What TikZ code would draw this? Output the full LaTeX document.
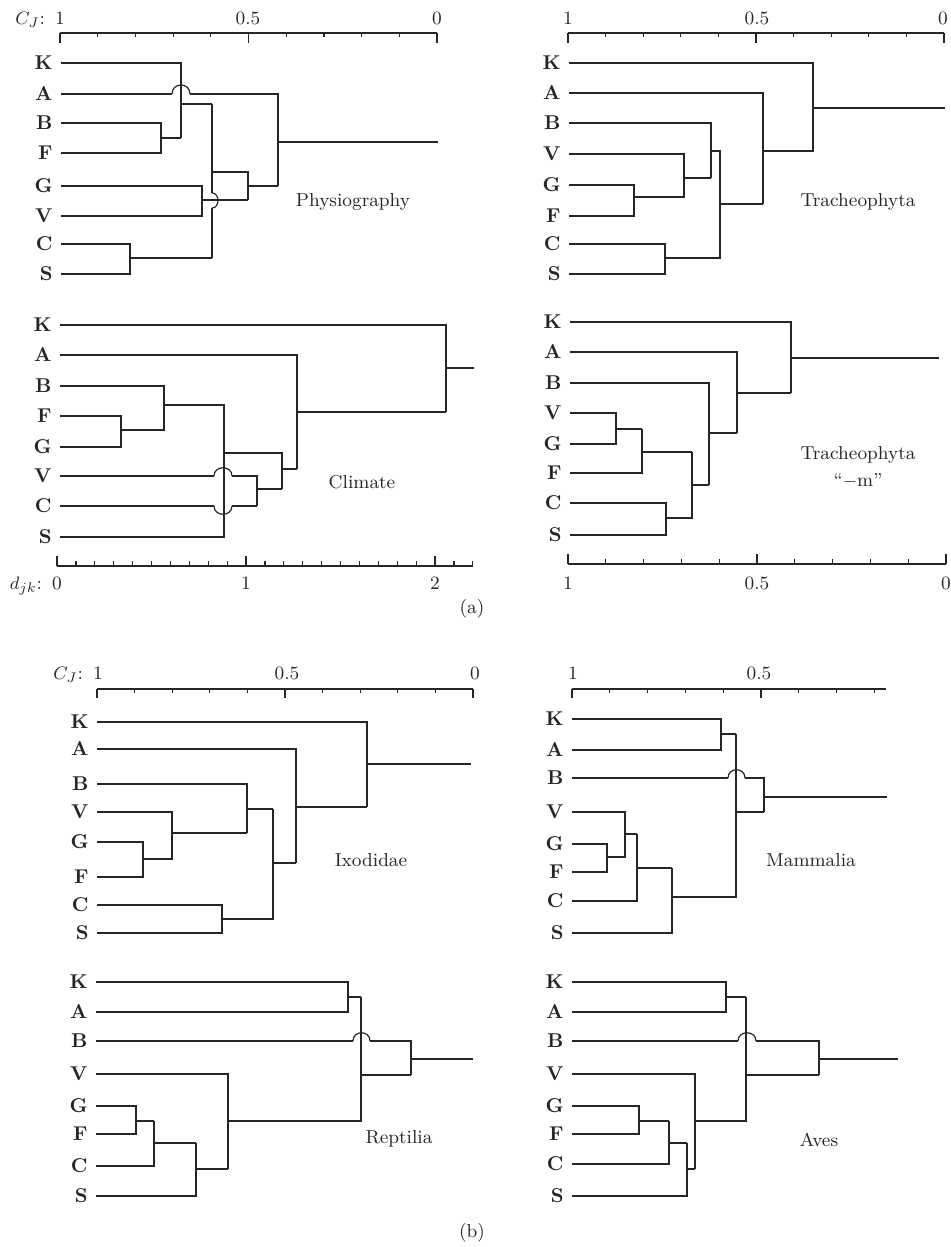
\documentclass[tikz,border=0pt]{standalone}
\usetikzlibrary{positioning}

\tikzset{
  leaf/.style={anchor=east, font=\bfseries, inner xsep=4pt, inner ysep=0pt,
    text height=1.6ex, text depth=0pt},
  branch/.style={line width=0.6pt, draw=black!85},
  tick/.style={line width=0.6pt, draw=black!85},
  groupname/.style={inner sep=0pt}
}

\begin{document}
\begin{tikzpicture}[x=0.5pt, y=-0.5pt, every node/.style={align=center, text=black!85},
  font=\fontsize{9.4}{13.5}\selectfont]
\useasboundingbox (0,0) rectangle (950,1247);

% ---------------- (a) ----------------
% Physiography: scale
\draw[tick] (60,33) -- (437,33);
\foreach \t in {0,5,10} \draw[tick] (60+37.7*\t,33) -- ++(0,10);
\foreach \t in {1,2,3,4,6,7,8,9} \draw[tick] (60+37.7*\t,33) -- ++(0,4);
\node (phAx1) at (60,18) {1};
\node[base left=-2pt of phAx1] (phCJ) {$C_J$:};
\node (phAx5) at (248,18) {0.5};
\node (phAx0) at (437,18) {0};

% Physiography: leaves
\node[leaf] (phK) at (61,63) {K};
\node[leaf] (phA) at (61,94) {A};
\node[leaf] (phB) at (61,123) {B};
\node[leaf] (phF) at (61,153) {F};
\node[leaf] (phG) at (61,186) {G};
\node[leaf] (phV) at (61,216) {V};
\node[leaf] (phC) at (61,244) {C};
\node[leaf] (phS) at (61,274) {S};

% Physiography: tree
\draw[branch] (phB.east) -| (161,138) |- (phF.east);
\draw[branch] (161,138) -- (181,138);
\draw[branch] (phK.east) -| (181,138);
\draw[branch] (181,104) -- (212,104);
\draw[branch] (phA.east) -- (172,94);
\draw[branch] (172,94) .. controls (172,82) and (190,82) .. (190,94);
\draw[branch] (190,94) -| (278,186);
\draw[branch] (phG.east) -| (202,200) |- (phV.east);
\draw[branch] (202,200) -- (248,200);
\draw[branch] (phC.east) -| (130,258) |- (phS.east);
\draw[branch] (130,258) -- (212,258);
\draw[branch] (212,104) -- (212,193);
\draw[branch] (212,193) .. controls (220,193) and (220,208) .. (212,208);
\draw[branch] (212,208) -- (212,258);
\draw[branch] (212,172) -| (248,200);
\draw[branch] (248,186) -- (278,186);
\draw[branch] (278,142) -- (438,142);
\node[groupname] (phName) at (353,202) {Physiography};

% Tracheophyta: scale
\draw[tick] (568,33) -- (944,33);
\foreach \t in {0,5,10} \draw[tick] (568+37.6*\t,33) -- ++(0,10);
\foreach \t in {1,2,3,4,6,7,8,9} \draw[tick] (568+37.6*\t,33) -- ++(0,4);
\node (trAx1) at (568,18) {1};
\node (trAx5) at (757,18) {0.5};
\node (trAx0) at (943,18) {0};

% Tracheophyta: leaves
\node[leaf] (trK) at (569,63) {K};
\node[leaf] (trA) at (569,93) {A};
\node[leaf] (trB) at (569,123) {B};
\node[leaf] (trV) at (569,154) {V};
\node[leaf] (trG) at (569,185) {G};
\node[leaf] (trF) at (569,216) {F};
\node[leaf] (trC) at (569,244) {C};
\node[leaf] (trS) at (569,274) {S};

% Tracheophyta: tree
\draw[branch] (trG.east) -| (634,197) |- (trF.east);
\draw[branch] (trV.east) -| (684,197) -- (634,197);
\draw[branch] (684,178) -- (711,178);
\draw[branch] (trB.east) -| (711,178);
\draw[branch] (trC.east) -| (665,258) |- (trS.east);
\draw[branch] (711,151) -| (720,258) -- (665,258);
\draw[branch] (720,204) -- (763,204);
\draw[branch] (trA.east) -| (763,204);
\draw[branch] (trK.east) -| (813,151) -- (763,151);
\draw[branch] (813,108) -- (945,108);
\node[groupname] (trName) at (858,202) {Tracheophyta};

% Climate: leaves
\node[leaf] (clK) at (60,325) {K};
\node[leaf] (clA) at (60,355) {A};
\node[leaf] (clB) at (60,386) {B};
\node[leaf] (clF) at (60,416) {F};
\node[leaf] (clG) at (60,447) {G};
\node[leaf] (clV) at (60,476) {V};
\node[leaf] (clC) at (60,506) {C};
\node[leaf] (clS) at (60,537) {S};

% Climate: tree
\draw[branch] (clF.east) -| (121,430) |- (clG.east);
\draw[branch] (clB.east) -| (164,430) -- (121,430);
\draw[branch] (164,405) -| (224,537) -- (clS.east);
\draw[branch] (clV.east) -- (214,476);
\draw[branch] (214,476) .. controls (214,465) and (232,465) .. (232,476);
\draw[branch] (232,476) -| (257,506);
\draw[branch] (clC.east) -- (214,506);
\draw[branch] (214,506) .. controls (214,517) and (232,517) .. (232,506);
\draw[branch] (232,506) -- (257,506);
\draw[branch] (257,489) -- (282,489);
\draw[branch] (224,453) -| (282,489);
\draw[branch] (282,469) -- (297,469);
\draw[branch] (clA.east) -| (297,469);
\draw[branch] (297,412) -- (446,412);
\draw[branch] (clK.east) -| (446,412);
\draw[branch] (446,368) -- (474,368);
\node[groupname] (clName) at (362,482) {Climate};

% Climate: scale
\draw[tick] (57,566) -- (473,566);
\foreach \t in {0,10,20} \draw[tick] (57+18.9*\t,566) -- ++(0,-10);
\foreach \t in {1,...,9,11,12,...,19,21,22} \draw[tick] (57+18.9*\t,566) -- ++(0,-5);
\node (clAx0) at (57,583) {0};
\node[base left=-2pt of clAx0] (clDJK) {$d_{jk}$:};
\node (clAx1) at (246,583) {1};
\node (clAx2) at (435,583) {2};

% Tracheophyta "-m": leaves
\node[leaf] (tmK) at (570,322) {K};
\node[leaf] (tmA) at (570,352) {A};
\node[leaf] (tmB) at (570,383) {B};
\node[leaf] (tmV) at (570,413) {V};
\node[leaf] (tmG) at (570,444) {G};
\node[leaf] (tmF) at (570,473) {F};
\node[leaf] (tmC) at (570,503) {C};
\node[leaf] (tmS) at (570,535) {S};

% Tracheophyta "-m": tree
\draw[branch] (tmV.east) -| (616,429) |- (tmG.east);
\draw[branch] (616,429) -- (642,429);
\draw[branch] (tmF.east) -| (642,429);
\draw[branch] (642,452) -- (692,452);
\draw[branch] (tmC.east) -| (666,518) |- (tmS.east);
\draw[branch] (666,518) -| (692,452);
\draw[branch] (692,485) -- (709,485);
\draw[branch] (tmB.east) -| (709,485);
\draw[branch] (709,433) -- (737,433);
\draw[branch] (tmA.east) -| (737,433);
\draw[branch] (737,393) -- (791,393);
\draw[branch] (tmK.east) -| (791,393);
\draw[branch] (791,358) -- (939,358);
\node[groupname] (tmName) at (858,467) {Tracheophyta\\“$-$m”};

% Tracheophyta "-m": scale
\draw[tick] (568,564) -- (946,564);
\foreach \t in {0,5,10} \draw[tick] (568+37.8*\t,564) -- ++(0,-10);
\foreach \t in {1,2,3,4,6,7,8,9} \draw[tick] (568+37.8*\t,564) -- ++(0,-5);
\node (tmAx1) at (568,583) {1};
\node (tmAx5) at (757,583) {0.5};
\node (tmAx0) at (946,583) {0};

\node (capA) at (472,609) {(a)};

% ---------------- (b) ----------------
% Ixodidae: scale
\draw[tick] (97,689) -- (473,689);
\foreach \t in {0,5,10} \draw[tick] (97+37.6*\t,689) -- ++(0,9);
\foreach \t in {1,2,3,4,6,7,8,9} \draw[tick] (97+37.6*\t,689) -- ++(0,4);
\node (ixAx1) at (98,673) {1};
\node[base left=-2pt of ixAx1] (ixCJ) {$C_J$:};
\node (ixAx5) at (287,673) {0.5};
\node (ixAx0) at (475,673) {0};

% Ixodidae: leaves
\node[leaf] (ixK) at (97,722) {K};
\node[leaf] (ixA) at (97,749) {A};
\node[leaf] (ixB) at (97,784) {B};
\node[leaf] (ixV) at (97,812) {V};
\node[leaf] (ixG) at (97,842) {G};
\node[leaf] (ixF) at (97,877) {F};
\node[leaf] (ixC) at (97,905) {C};
\node[leaf] (ixS) at (97,933) {S};

% Ixodidae: tree
\draw[branch] (ixG.east) -| (143,859) |- (ixF.east);
\draw[branch] (ixV.east) -| (172,859) -- (143,859);
\draw[branch] (172,833) -- (247,833);
\draw[branch] (ixB.east) -| (247,833);
\draw[branch] (247,809) -- (273,809);
\draw[branch] (ixC.east) -| (222,919) |- (ixS.east);
\draw[branch] (222,919) -| (273,809);
\draw[branch] (273,863) -- (296,863);
\draw[branch] (ixA.east) -| (296,863);
\draw[branch] (296,807) -- (367,807);
\draw[branch] (ixK.east) -| (367,807);
\draw[branch] (367,764) -- (471,764);
\node[groupname] (ixName) at (371,860) {Ixodidae};

% Mammalia: scale
\draw[tick] (572,689) -- (886,689);
\foreach \t in {0,5} \draw[tick] (572+37.8*\t,689) -- ++(0,9);
\foreach \t in {1,2,3,4,6,7,8} \draw[tick] (572+37.8*\t,689) -- ++(0,4);
\node (maAx1) at (573,673) {1};
\node (maAx5) at (759,673) {0.5};

% Mammalia: leaves
\node[leaf] (maK) at (572,719) {K};
\node[leaf] (maA) at (572,750) {A};
\node[leaf] (maB) at (572,778) {B};
\node[leaf] (maV) at (572,812) {V};
\node[leaf] (maG) at (572,844) {G};
\node[leaf] (maF) at (572,872) {F};
\node[leaf] (maC) at (572,901) {C};
\node[leaf] (maS) at (572,933) {S};

% Mammalia: tree
\draw[branch] (maK.east) -| (721,734) |- (maA.east);
\draw[branch] (721,734) -- (736,734);
\draw[branch] (maG.east) -| (607,857) |- (maF.east);
\draw[branch] (maV.east) -| (625,857) -- (607,857);
\draw[branch] (625,834) -- (637,834);
\draw[branch] (maC.east) -| (637,834);
\draw[branch] (637,868) -- (672,868);
\draw[branch] (maS.east) -| (672,868);
\draw[branch] (672,897) -| (736,734);
\draw[branch] (736,812) -- (764,812);
\draw[branch] (maB.east) -- (728,778);
\draw[branch] (728,778) .. controls (728,767) and (745,767) .. (745,778);
\draw[branch] (745,778) -| (764,812);
\draw[branch] (764,797) -- (887,797);
\node[groupname] (maName) at (811,860) {Mammalia};

% Reptilia: leaves
\node[leaf] (reK) at (96,982) {K};
\node[leaf] (reA) at (96,1012) {A};
\node[leaf] (reB) at (96,1041) {B};
\node[leaf] (reV) at (96,1074) {V};
\node[leaf] (reG) at (96,1106) {G};
\node[leaf] (reF) at (96,1134) {F};
\node[leaf] (reC) at (96,1166) {C};
\node[leaf] (reS) at (96,1196) {S};

% Reptilia: tree
\draw[branch] (reK.east) -| (348,997) |- (reA.east);
\draw[branch] (348,997) -- (361,997);
\draw[branch] (reG.east) -| (136,1121) |- (reF.east);
\draw[branch] (136,1121) -- (154,1121);
\draw[branch] (reC.east) -| (154,1121);
\draw[branch] (154,1143) -- (196,1143);
\draw[branch] (reS.east) -| (196,1143);
\draw[branch] (196,1169) -- (228,1169);
\draw[branch] (reV.east) -| (228,1169);
\draw[branch] (228,1121) -| (361,997);
\draw[branch] (361,1075) -- (411,1075);
\draw[branch] (reB.east) -- (353,1041);
\draw[branch] (353,1041) .. controls (353,1030) and (370,1030) .. (370,1041);
\draw[branch] (370,1041) -| (411,1075);
\draw[branch] (411,1059) -- (473,1059);
\node[groupname] (reName) at (399,1139) {Reptilia};

% Aves: leaves
\node[leaf] (avK) at (572,982) {K};
\node[leaf] (avA) at (572,1012) {A};
\node[leaf] (avB) at (572,1041) {B};
\node[leaf] (avV) at (572,1074) {V};
\node[leaf] (avG) at (572,1106) {G};
\node[leaf] (avF) at (572,1134) {F};
\node[leaf] (avC) at (572,1164) {C};
\node[leaf] (avS) at (572,1196) {S};

% Aves: tree
\draw[branch] (avK.east) -| (726,997) |- (avA.east);
\draw[branch] (726,997) -- (746,997);
\draw[branch] (avG.east) -| (639,1121) |- (avF.east);
\draw[branch] (639,1121) -- (669,1121);
\draw[branch] (avC.east) -| (669,1121);
\draw[branch] (669,1143) -- (687,1143);
\draw[branch] (avS.east) -| (687,1143);
\draw[branch] (687,1169) -- (695,1169);
\draw[branch] (avV.east) -| (695,1169);
\draw[branch] (695,1121) -| (746,997);
\draw[branch] (746,1075) -- (819,1075);
\draw[branch] (avB.east) -- (738,1041);
\draw[branch] (738,1041) .. controls (738,1030) and (756,1030) .. (756,1041);
\draw[branch] (756,1041) -| (819,1075);
\draw[branch] (819,1059) -- (898,1059);
\node[groupname] (avName) at (819,1140) {Aves};

\node (capB) at (472,1233) {(b)};

\end{tikzpicture}
\end{document}
